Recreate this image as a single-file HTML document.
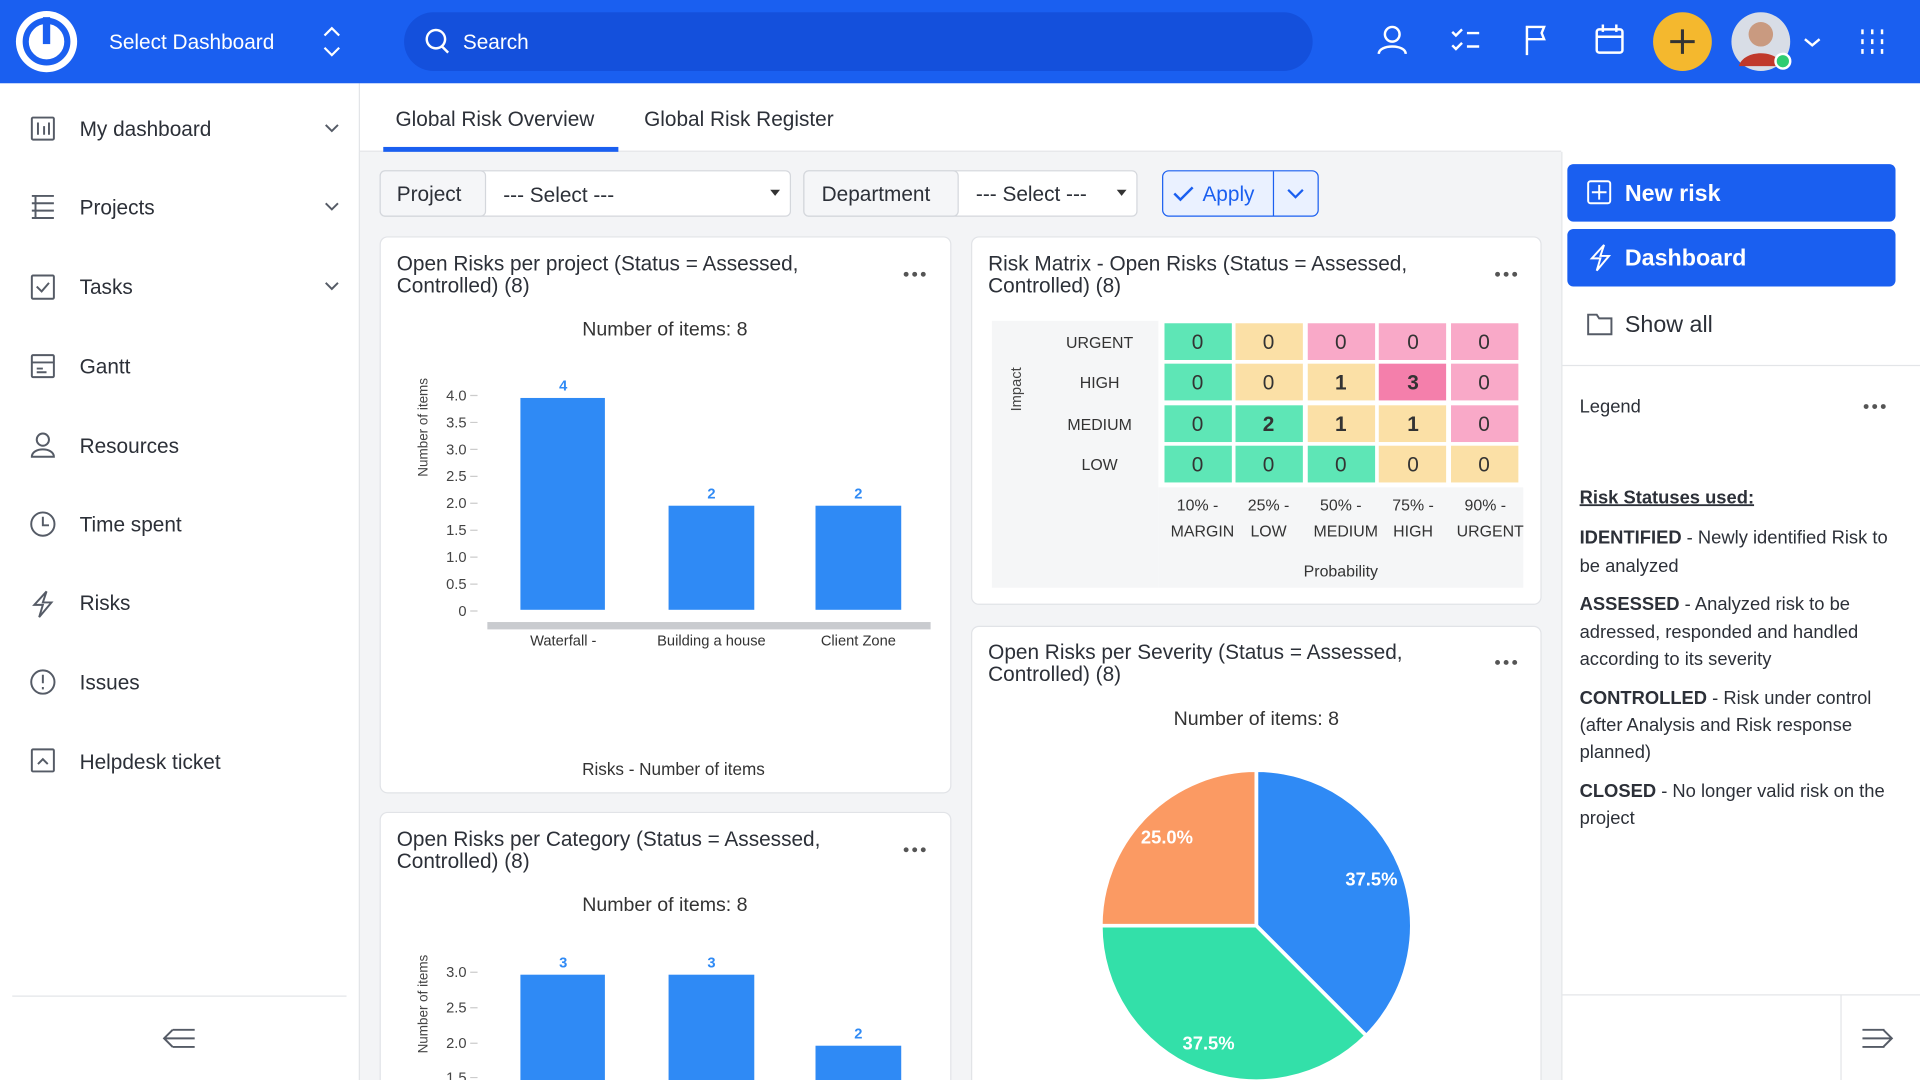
<!DOCTYPE html>
<html><head><meta charset="utf-8"><style>
html,body{margin:0;padding:0;width:1920px;height:1080px;overflow:hidden;background:#fff}
svg{display:block;font-family:"Liberation Sans",Arial,sans-serif}
</style></head><body>
<svg width="1920" height="1080" viewBox="0 0 1568 882" xmlns="http://www.w3.org/2000/svg">
<!-- backgrounds -->
<rect x="0" y="0" width="1568" height="882" fill="#fff"/>
<rect x="293" y="124" width="982" height="758" fill="#f3f4f6"/>
<rect x="293" y="68" width="1" height="814" fill="#e3e5e8"/>
<rect x="1275" y="124" width="1" height="758" fill="#e3e5e8"/>
<rect x="294" y="123" width="981" height="1" fill="#e3e5e8"/>
<!-- top bar -->
<rect x="0" y="0" width="1568" height="68" fill="#1a5ff0"/>
<circle cx="38" cy="34" r="25" fill="#fff"/>
<circle cx="38" cy="34" r="17" fill="none" stroke="#1a5ff0" stroke-width="5"/>
<rect x="35" y="14" width="6" height="22" fill="#1a5ff0"/>
<text x="89" y="40" font-size="17" fill="#fff">Select Dashboard</text>
<path d="M265 29l6-6 6 6M265 39l6 6 6-6" stroke="#fff" stroke-width="1.8" fill="none"/>
<rect x="330" y="10" width="742" height="48" rx="24" fill="#1450dc"/>
<circle cx="356" cy="32" r="7.5" fill="none" stroke="#fff" stroke-width="2"/>
<path d="M361 38l5 5" stroke="#fff" stroke-width="2"/>
<text x="378" y="40" font-size="17" fill="#fff">Search</text>
<g stroke="#fff" stroke-width="2" fill="none">
<circle cx="1137" cy="28" r="6"/><path d="M1126 44c0-8 22-8 22 0"/>
<path d="M1186 26l3 3 5-5M1198 27h10M1186 37l3 3 5-5M1198 38h10"/>
<path d="M1247 45V22h14l-2 5 2 5h-14"/>
<rect x="1304" y="24" width="21" height="19" rx="2"/><path d="M1304 30h21M1309 20v6M1320 20v6"/>
<path d="M1520 26h2M1528 26h2M1536 26h2M1520 34h2M1528 34h2M1536 34h2M1520 42h2M1528 42h2M1536 42h2" stroke-width="4"/>
<path d="M1474 32l6 5 6-5"/>
</g>
<circle cx="1374" cy="34" r="24" fill="#f4b82e"/>
<path d="M1374 24v20M1364 34h20" stroke="#333" stroke-width="2.5"/>
<circle cx="1438" cy="34" r="24" fill="#d8dde6"/>
<circle cx="1438" cy="28" r="10" fill="#c99a80"/>
<path d="M1420 54c4-14 32-14 36 0z" fill="#c0392b"/>
<circle cx="1456" cy="50" r="6" fill="#2ecc71" stroke="#fff" stroke-width="2"/>
<!-- sidebar -->
<g font-size="17" fill="#2c3038">
<text x="65" y="111">My dashboard</text>
<text x="65" y="175">Projects</text>
<text x="65" y="240">Tasks</text>
<text x="65" y="305">Gantt</text>
<text x="65" y="370">Resources</text>
<text x="65" y="434">Time spent</text>
<text x="65" y="498">Risks</text>
<text x="65" y="563">Issues</text>
<text x="65" y="628">Helpdesk ticket</text>
</g>
<g stroke="#555b66" stroke-width="1.6" fill="none">
<rect x="26" y="96" width="18" height="18" rx="1"/><path d="M31 100v10M36 103v7M40 100v10"/>
<path d="M26 160h18M26 166h18M26 172h18M26 178h18M29 160v18"/>
<rect x="26" y="225" width="18" height="19" rx="1"/><path d="M30 234l4 4 6-7"/>
<rect x="26" y="290" width="18" height="18" rx="1"/><path d="M26 296h18M30 301h5M30 304h8"/>
<circle cx="35" cy="359" r="5"/><path d="M26 373c0-8 18-8 18 0z"/>
<circle cx="35" cy="428" r="9.5"/><path d="M35 422v7h5"/>
<path d="M38 483l-10 11h7l-3 10 10-12h-7z"/>
<circle cx="35" cy="557" r="9.5"/><path d="M35 551v7M35 561v2"/>
<rect x="26" y="612" width="18" height="18" rx="1"/><path d="M31 624l4-4 4 4"/>
<path d="M266 102l5 5 5-5M266 166l5 5 5-5M266 231l5 5 5-5"/>
<path d="M135 848h24M141 841l-7 7 7 7M141 855h18M141 841h18"/>
<path d="M1521 848h24M1538 841l7 7-7 7M1521 841h18M1521 855h18"/>
</g>
<rect x="10" y="813" width="273" height="1" fill="#e3e5e8"/>
<!-- tabs -->
<text x="323" y="103" font-size="17" fill="#2c3038">Global Risk Overview</text>
<text x="526" y="103" font-size="17" fill="#2c3038">Global Risk Register</text>
<rect x="313" y="120" width="192" height="4" fill="#1a5ff0"/>
<!-- filters -->
<rect x="310.5" y="139.5" width="335" height="37" rx="4" fill="#fff" stroke="#d4d7dc"/>
<rect x="310.5" y="139.5" width="86" height="37" rx="4" fill="#f5f6f8" stroke="#d4d7dc"/>
<text x="324" y="164" font-size="17" fill="#2c3038">Project</text>
<text x="411" y="165" font-size="17" fill="#2c3038">--- Select ---</text>
<path d="M629 155l4 5 4-5z" fill="#333"/>
<rect x="656.5" y="139.5" width="272" height="37" rx="4" fill="#fff" stroke="#d4d7dc"/>
<rect x="656.5" y="139.5" width="126" height="37" rx="4" fill="#f5f6f8" stroke="#d4d7dc"/>
<text x="671" y="164" font-size="17" fill="#2c3038">Department</text>
<text x="797" y="164" font-size="17" fill="#2c3038">--- Select ---</text>
<path d="M912 155l4 5 4-5z" fill="#333"/>
<rect x="949.5" y="139.5" width="127" height="37" rx="5" fill="#eaf1ff" stroke="#1a5ff0"/>
<line x1="1040" y1="140" x2="1040" y2="176" stroke="#1a5ff0"/>
<path d="M959 158l5 5 10-10" stroke="#1a5ff0" stroke-width="2" fill="none"/>
<text x="982" y="164" font-size="17" fill="#1a5ff0">Apply</text>
<path d="M1052 155l6 6 6-6" stroke="#1a5ff0" stroke-width="1.8" fill="none"/>
<!-- cards -->
<g fill="#fff" stroke="#e1e3e7">
<rect x="310.5" y="193.5" width="466" height="454" rx="6"/>
<rect x="793.5" y="193.5" width="465" height="300" rx="6"/>
<rect x="793.5" y="511.5" width="465" height="390" rx="6"/>
<rect x="310.5" y="663.5" width="466" height="240" rx="6"/>
</g>
<g fill="#555" font-size="0">
<circle cx="740" cy="224" r="2"/><circle cx="747" cy="224" r="2"/><circle cx="754" cy="224" r="2"/>
<circle cx="1223" cy="224" r="2"/><circle cx="1230" cy="224" r="2"/><circle cx="1237" cy="224" r="2"/>
<circle cx="1223" cy="541" r="2"/><circle cx="1230" cy="541" r="2"/><circle cx="1237" cy="541" r="2"/>
<circle cx="740" cy="694" r="2"/><circle cx="747" cy="694" r="2"/><circle cx="754" cy="694" r="2"/>
<circle cx="1524" cy="332" r="2"/><circle cx="1531" cy="332" r="2"/><circle cx="1538" cy="332" r="2"/>
</g>
<g font-size="17" fill="#2c3038">
<text x="324" y="221">Open Risks per project (Status = Assessed,</text>
<text x="324" y="239">Controlled) (8)</text>
<text x="807" y="221">Risk Matrix - Open Risks (Status = Assessed,</text>
<text x="807" y="239">Controlled) (8)</text>
<text x="807" y="538">Open Risks per Severity (Status = Assessed,</text>
<text x="807" y="556">Controlled) (8)</text>
<text x="324" y="691">Open Risks per Category (Status = Assessed,</text>
<text x="324" y="709">Controlled) (8)</text>
</g>
<g font-size="16" fill="#333" text-anchor="middle">
<text x="543" y="274">Number of items: 8</text>
<text x="1026" y="592">Number of items: 8</text>
<text x="543" y="744">Number of items: 8</text>
</g>
<!-- bar chart 1 -->
<g font-size="12" fill="#444" text-anchor="end">
<text x="381" y="327">4.0</text><text x="381" y="349">3.5</text><text x="381" y="371">3.0</text>
<text x="381" y="393">2.5</text><text x="381" y="415">2.0</text><text x="381" y="437">1.5</text>
<text x="381" y="459">1.0</text><text x="381" y="481">0.5</text><text x="381" y="503">0</text>
</g>
<g stroke="#ccc"><path d="M384 323h6M384 345h6M384 367h6M384 389h6M384 411h6M384 433h6M384 455h6M384 477h6M384 499h6"/></g>
<text transform="translate(349 349) rotate(-90)" font-size="11" fill="#444" text-anchor="middle">Number of items</text>
<g fill="#2f8af5">
<rect x="425" y="325" width="69" height="173"/><rect x="546" y="413" width="70" height="85"/><rect x="666" y="413" width="70" height="85"/>
</g>
<rect x="398" y="508" width="362" height="6" fill="#c9cbcf"/>
<g font-size="12" font-weight="bold" fill="#2f8af5" text-anchor="middle">
<text x="460" y="319">4</text><text x="581" y="407">2</text><text x="701" y="407">2</text>
</g>
<g font-size="12" fill="#333" text-anchor="middle">
<text x="460" y="527">Waterfall -</text><text x="581" y="527">Building a house</text><text x="701" y="527">Client Zone</text>
</g>
<text x="550" y="633" font-size="14" fill="#333" text-anchor="middle">Risks - Number of items</text>
<!-- bar chart 2 -->
<g font-size="12" fill="#444" text-anchor="end">
<text x="381" y="798">3.0</text><text x="381" y="827">2.5</text><text x="381" y="856">2.0</text><text x="381" y="884">1.5</text>
</g>
<g stroke="#ccc"><path d="M384 794h6M384 823h6M384 852h6M384 880h6"/></g>
<text transform="translate(349 820) rotate(-90)" font-size="11" fill="#444" text-anchor="middle">Number of items</text>
<g fill="#2f8af5">
<rect x="425" y="796" width="69" height="90"/><rect x="546" y="796" width="70" height="90"/><rect x="666" y="854" width="70" height="30"/>
</g>
<g font-size="12" font-weight="bold" fill="#2f8af5" text-anchor="middle">
<text x="460" y="790">3</text><text x="581" y="790">3</text><text x="701" y="848">2</text>
</g>
<!-- risk matrix -->
<rect x="810" y="262" width="136" height="218" fill="#f5f6f7"/>
<rect x="946" y="398" width="298" height="82" fill="#f5f6f7"/>
<text transform="translate(834 318) rotate(-90)" font-size="12" fill="#444" text-anchor="middle">Impact</text>
<g font-size="13" fill="#333" text-anchor="middle">
<text x="898" y="284">URGENT</text><text x="898" y="317">HIGH</text><text x="898" y="351">MEDIUM</text><text x="898" y="384">LOW</text>
<text x="978" y="417">10% -</text><text x="982" y="438">MARGIN</text>
<text x="1036" y="417">25% -</text><text x="1036" y="438">LOW</text>
<text x="1095" y="417">50% -</text><text x="1099" y="438">MEDIUM</text>
<text x="1154" y="417">75% -</text><text x="1154" y="438">HIGH</text>
<text x="1213" y="417">90% -</text><text x="1217" y="438">URGENT</text>
<text x="1095" y="471">Probability</text>
</g>
<g>
<rect x="951" y="264" width="55" height="30" fill="#5ee6b6"/><rect x="1009" y="264" width="55" height="30" fill="#fbe0a6"/><rect x="1068" y="264" width="55" height="30" fill="#f9a9c8"/><rect x="1126" y="264" width="55" height="30" fill="#f9a9c8"/><rect x="1185" y="264" width="55" height="30" fill="#f9a9c8"/>
<rect x="951" y="297" width="55" height="30" fill="#5ee6b6"/><rect x="1009" y="297" width="55" height="30" fill="#fbe0a6"/><rect x="1068" y="297" width="55" height="30" fill="#fbe0a6"/><rect x="1126" y="297" width="55" height="30" fill="#f47fab"/><rect x="1185" y="297" width="55" height="30" fill="#f9a9c8"/>
<rect x="951" y="331" width="55" height="30" fill="#5ee6b6"/><rect x="1009" y="331" width="55" height="30" fill="#5ee6b6"/><rect x="1068" y="331" width="55" height="30" fill="#fbe0a6"/><rect x="1126" y="331" width="55" height="30" fill="#fbe0a6"/><rect x="1185" y="331" width="55" height="30" fill="#f9a9c8"/>
<rect x="951" y="364" width="55" height="30" fill="#5ee6b6"/><rect x="1009" y="364" width="55" height="30" fill="#5ee6b6"/><rect x="1068" y="364" width="55" height="30" fill="#5ee6b6"/><rect x="1126" y="364" width="55" height="30" fill="#fbe0a6"/><rect x="1185" y="364" width="55" height="30" fill="#fbe0a6"/>
</g>
<g font-size="17" fill="#333" text-anchor="middle">
<text x="978" y="285">0</text><text x="1036" y="285">0</text><text x="1095" y="285">0</text><text x="1154" y="285">0</text><text x="1212" y="285">0</text>
<text x="978" y="318">0</text><text x="1036" y="318">0</text><text x="1095" y="318" font-weight="bold">1</text><text x="1154" y="318" font-weight="bold">3</text><text x="1212" y="318">0</text>
<text x="978" y="352">0</text><text x="1036" y="352" font-weight="bold">2</text><text x="1095" y="352" font-weight="bold">1</text><text x="1154" y="352" font-weight="bold">1</text><text x="1212" y="352">0</text>
<text x="978" y="385">0</text><text x="1036" y="385">0</text><text x="1095" y="385">0</text><text x="1154" y="385">0</text><text x="1212" y="385">0</text>
</g>
<!-- pie -->
<g stroke="#fff" stroke-width="3">
<path d="M1026 756L1026 629A127 127 0 0 1 1115.8 845.8Z" fill="#2f8af5"/>
<path d="M1026 756L1115.8 845.8A127 127 0 0 1 899 756Z" fill="#33e0a9"/>
<path d="M1026 756L899 756A127 127 0 0 1 1026 629Z" fill="#fb9a63"/>
</g>
<g font-size="15" font-weight="bold" fill="#fff" text-anchor="middle">
<text x="1120" y="723">37.5%</text><text x="987" y="857">37.5%</text><text x="953" y="689">25.0%</text>
</g>
<!-- right panel -->
<rect x="1280" y="134" width="268" height="47" rx="5" fill="#1a5ff0"/>
<rect x="1280" y="187" width="268" height="47" rx="5" fill="#1a5ff0"/>
<rect x="1297" y="148" width="18" height="18" rx="2" fill="none" stroke="#fff" stroke-width="1.6"/>
<path d="M1306 151v12M1300 157h12" stroke="#fff" stroke-width="1.6"/>
<path d="M1310 200l-10 11h7l-3 10 10-12h-7z" fill="none" stroke="#fff" stroke-width="1.6"/>
<text x="1327" y="164" font-size="19" font-weight="bold" fill="#fff">New risk</text>
<text x="1327" y="217" font-size="19" font-weight="bold" fill="#fff">Dashboard</text>
<path d="M1297 257h7l2 3h10v13h-19z" fill="none" stroke="#555b66" stroke-width="1.6"/>
<text x="1327" y="271" font-size="19" fill="#2c3038">Show all</text>
<rect x="1276" y="298" width="292" height="1" fill="#e3e5e8"/>
<text x="1290" y="337" font-size="15" fill="#2c3038">Legend</text>
<g font-size="15" fill="#2c3038">
<text x="1290" y="411" font-weight="bold" text-decoration="underline">Risk Statuses used:</text>
<text x="1290" y="444"><tspan font-weight="bold">IDENTIFIED</tspan> - Newly identified Risk to</text>
<text x="1290" y="467">be analyzed</text>
<text x="1290" y="498"><tspan font-weight="bold">ASSESSED</tspan> - Analyzed risk to be</text>
<text x="1290" y="521">adressed, responded and handled</text>
<text x="1290" y="543">according to its severity</text>
<text x="1290" y="575"><tspan font-weight="bold">CONTROLLED</tspan> - Risk under control</text>
<text x="1290" y="597">(after Analysis and Risk response</text>
<text x="1290" y="619">planned)</text>
<text x="1290" y="651"><tspan font-weight="bold">CLOSED</tspan> - No longer valid risk on the</text>
<text x="1290" y="673">project</text>
</g>
<rect x="1276" y="812" width="292" height="1" fill="#e3e5e8"/>
<rect x="1503" y="813" width="1" height="69" fill="#e3e5e8"/>
</svg>
</body></html>
